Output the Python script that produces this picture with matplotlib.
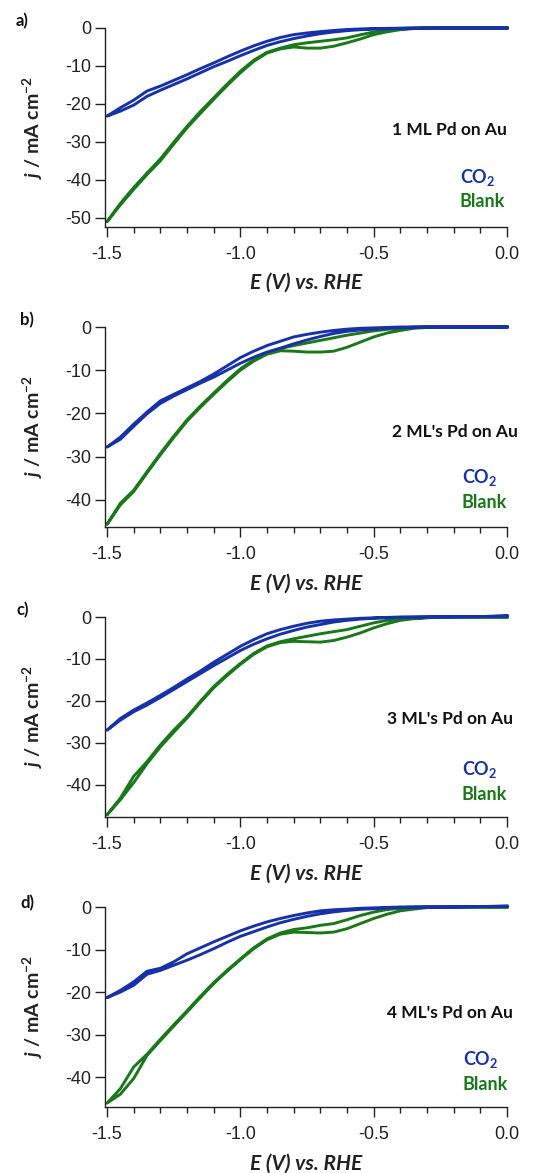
"""Linear sweep voltammograms of Pd monolayers on Au, CO2 vs blank electrolyte."""

import matplotlib

matplotlib.use("Agg")

import matplotlib.pyplot as plt
import numpy as np
from matplotlib.ticker import MultipleLocator, FormatStrFormatter

plt.rcParams["axes.unicode_minus"] = False
plt.rcParams["mathtext.fontset"] = "custom"
plt.rcParams["mathtext.rm"] = "Lato:bold"
plt.rcParams["mathtext.it"] = "Lato:bold:italic"
plt.rcParams["mathtext.bf"] = "Lato:bold"

BLUE = "#1732a8"
GREEN = "#1a781a"
LABEL_FONT = "Lato"
TICK_FONT = "Liberation Sans"

# potential grid (V vs RHE), shared by every branch
E_V = [0.0, -0.1, -0.2, -0.3, -0.35, -0.4, -0.45, -0.5, -0.55, -0.6, -0.65, -0.7,
       -0.75, -0.8, -0.85, -0.9, -0.95, -1.0, -1.05, -1.1, -1.15, -1.2, -1.25,
       -1.3, -1.35, -1.4, -1.45, -1.5]

panel_letters = ["a)", "b)", "c)", "d)"]
sample_names = ["1 ML Pd on Au", "2 ML's Pd on Au", "3 ML's Pd on Au", "4 ML's Pd on Au"]

# current density j (mA cm-2): cathodic and return sweeps
co2_fwd = [
    [0, 0, 0, 0, -0.05, -0.1, -0.2, -0.3, -0.45, -0.7, -1.05, -1.5, -2.1, -2.8, -3.6, -4.6,
     -5.9, -7.3, -8.8, -10.2, -11.8, -13.4, -14.9, -16.4, -18.0, -20.3, -21.9, -23.2],
    [0, 0, 0, 0, -0.05, -0.15, -0.3, -0.5, -0.7, -1.0, -1.5, -2.2, -3.0, -3.9, -4.9, -5.8,
     -7.0, -8.4, -10.0, -11.6, -13.0, -14.5, -16.0, -17.7, -20.1, -23.0, -26.0, -27.8],
    [0.25, 0.1, 0.05, 0, -0.05, -0.1, -0.2, -0.3, -0.5, -0.8, -1.2, -1.8, -2.4, -3.2, -4.1, -5.2,
     -6.5, -8.0, -9.8, -11.6, -13.5, -15.4, -17.3, -19.2, -21.0, -22.6, -24.6, -27.0],
    [0.2, 0.1, 0, 0, -0.05, -0.1, -0.25, -0.4, -0.55, -0.8, -1.15, -1.6, -2.2, -2.9, -3.7, -4.7,
     -5.8, -6.9, -8.3, -9.8, -11.2, -12.5, -13.7, -14.9, -15.8, -18.4, -20.0, -21.3],
]
co2_rev = [
    [0, 0, 0, 0, 0, -0.05, -0.1, -0.15, -0.25, -0.4, -0.65, -0.95, -1.3, -1.75, -2.5, -3.5,
     -4.7, -6.1, -7.6, -9.2, -10.7, -12.3, -13.8, -15.3, -16.6, -19.0, -21.0, -23.2],
    [0, 0, 0, 0, 0, 0, -0.1, -0.2, -0.3, -0.5, -0.8, -1.2, -1.7, -2.3, -3.3, -4.3,
     -5.6, -7.1, -9.0, -10.9, -12.6, -14.1, -15.6, -17.1, -19.7, -22.5, -25.5, -27.8],
    [0.25, 0.1, 0.05, 0, 0, 0, -0.1, -0.2, -0.3, -0.5, -0.7, -1.0, -1.5, -2.2, -3.0, -4.0,
     -5.4, -7.0, -8.9, -10.8, -12.9, -14.8, -16.8, -18.7, -20.5, -22.2, -24.2, -27.0],
    [0.2, 0.1, 0, 0, 0, 0, -0.1, -0.2, -0.3, -0.5, -0.65, -0.9, -1.4, -2.0, -2.7, -3.5,
     -4.5, -5.6, -6.9, -8.2, -9.6, -11.0, -12.9, -14.4, -15.1, -17.6, -19.6, -21.3],
]
blank_fwd = [
    [0, 0, 0, -0.05, -0.15, -0.45, -1.0, -1.75, -2.9, -3.9, -4.8, -5.3, -5.3, -5.0, -5.5, -6.6,
     -8.8, -11.8, -15.2, -18.8, -22.5, -26.3, -30.6, -35.0, -38.6, -42.5, -46.6, -51.0],
    [0, 0, 0, -0.1, -0.3, -0.8, -1.4, -2.3, -3.5, -4.7, -5.6, -5.8, -5.8, -5.6, -5.5, -6.3,
     -7.9, -10.0, -12.7, -15.6, -18.6, -21.8, -25.6, -29.6, -33.8, -38.1, -41.2, -45.7],
    [0, 0, 0, -0.16, -0.4, -0.8, -1.6, -2.6, -3.8, -4.8, -5.6, -6.0, -5.9, -5.8, -6.1, -7.1,
     -8.9, -11.3, -14.0, -16.9, -20.4, -24.1, -27.5, -31.0, -35.0, -39.5, -43.6, -47.2],
    [0, 0, 0, -0.15, -0.5, -0.9, -1.7, -2.7, -3.9, -5.1, -5.9, -6.1, -6.0, -5.9, -6.4, -7.7,
     -9.8, -12.4, -15.1, -18.0, -21.3, -24.7, -28.0, -31.4, -34.9, -40.3, -44.0, -46.1],
]
blank_rev = [
    [0, 0, 0, 0, -0.1, -0.25, -0.6, -1.05, -1.8, -2.6, -3.1, -3.5, -3.9, -4.4, -5.3, -6.4,
     -8.5, -11.4, -14.8, -18.4, -22.0, -25.9, -30.1, -34.5, -38.2, -42.0, -46.2, -51.0],
    [0, 0, 0, 0, -0.1, -0.3, -0.55, -0.9, -1.4, -1.9, -2.5, -3.1, -3.7, -4.3, -5.0, -6.0,
     -7.6, -9.7, -12.4, -15.3, -18.3, -21.5, -25.3, -29.3, -33.5, -37.8, -40.8, -45.7],
    [0, 0, 0, -0.16, -0.3, -0.5, -0.8, -1.4, -2.2, -3.0, -3.5, -4.0, -4.6, -5.2, -5.9, -6.9,
     -8.7, -11.1, -13.7, -16.6, -20.1, -23.8, -27.0, -30.5, -34.5, -38.0, -43.2, -47.2],
    [0, 0, 0, 0, -0.1, -0.3, -0.6, -1.2, -2.0, -3.0, -3.9, -4.3, -4.9, -5.3, -6.1, -7.5,
     -9.6, -12.2, -14.9, -17.8, -21.0, -24.4, -27.7, -31.1, -34.6, -37.6, -42.7, -46.1],
]

y_bottoms = [-52.4, -46.3, -47.7, -47.0]
y_tick_sets = [[0, -10, -20, -30, -40, -50], [0, -10, -20, -30, -40],
               [0, -10, -20, -30, -40], [0, -10, -20, -30, -40]]

W, H = 543, 1173
axes_tops_px = [28, 327, 617, 907]
axes_heights_px = [199, 200, 200, 200]
letter_pos_px = [(22, 21), (27, 320), (23, 610), (27, 903)]
name_pos = [(1.0, 0.487), (1.027, 0.475), (1.015, 0.49), (1.015, 0.47)]
legend_pos = [(0.883, 0.251, 0.126), (0.888, 0.245, 0.12),
              (0.888, 0.24, 0.11), (0.890, 0.24, 0.11)]


def loop(fwd, rev):
    e = np.asarray(E_V)
    return (np.concatenate([e, e[::-1]]),
            np.concatenate([np.asarray(fwd), np.asarray(rev)[::-1]]))


fig = plt.figure(figsize=(W / 100, H / 100), dpi=100)

for i in range(4):
    top = axes_tops_px[i]
    h = axes_heights_px[i]
    ax = fig.add_axes([105 / W, 1 - (top + h) / H, 402 / W, h / H])

    ex, jy = loop(blank_fwd[i], blank_rev[i])
    ax.plot(ex, jy, color=GREEN, lw=2.1, clip_on=False, solid_joinstyle="round")
    ex, jy = loop(co2_fwd[i], co2_rev[i])
    ax.plot(ex, jy, color=BLUE, lw=2.1, clip_on=False, solid_joinstyle="round")

    ax.set_xlim(-1.5075, 0.0)
    ax.set_ylim(y_bottoms[i], 0.0)
    ax.set_yticks(y_tick_sets[i])
    ax.xaxis.set_major_locator(MultipleLocator(0.5))
    ax.xaxis.set_minor_locator(MultipleLocator(0.1))
    ax.xaxis.set_major_formatter(FormatStrFormatter("%.1f"))

    for side in ("top", "right"):
        ax.spines[side].set_visible(False)
    for side in ("left", "bottom"):
        ax.spines[side].set_linewidth(1.0)
        ax.spines[side].set_color("#222222")

    ax.tick_params(axis="y", which="major", direction="out", length=7, width=1,
                   color="#222222", pad=3)
    ax.tick_params(axis="x", which="major", direction="out", length=7, width=1,
                   color="#222222", pad=7)
    ax.tick_params(axis="x", which="minor", direction="out", length=4.3, width=1,
                   color="#222222")
    for lab in ax.get_xticklabels() + ax.get_yticklabels():
        lab.set_fontfamily(TICK_FONT)
        lab.set_fontsize(13)
        lab.set_color("#222222")

    ax.text(0.5, -(283 - 227) / 199, "E (V) vs. RHE", transform=ax.transAxes,
            ha="center", va="center", fontsize=15, fontweight="bold",
            fontstyle="italic", family=LABEL_FONT, color="#222222")
    ax.text(-0.179, 0.5, r"$\mathit{j}$ / mA cm$^{-2}$", transform=ax.transAxes,
            ha="center", va="center", rotation=90, fontsize=14, fontweight="bold",
            family=LABEL_FONT, color="#222222")

    nx, ny = name_pos[i]
    ax.text(nx, ny, sample_names[i], transform=ax.transAxes, ha="right", va="center",
            fontsize=12.5, fontweight="bold", family=LABEL_FONT, color="#111111")
    lx, cy, by = legend_pos[i]
    ax.text(lx, cy, r"CO$_2$", transform=ax.transAxes, ha="left", va="center",
            fontsize=13, fontweight="bold", family=LABEL_FONT, color=BLUE)
    ax.text(lx, by, "Blank", transform=ax.transAxes, ha="left", va="center",
            fontsize=13, fontweight="bold", family=LABEL_FONT, color=GREEN)

    px, py = letter_pos_px[i]
    fig.text(px / W, 1 - py / H, panel_letters[i], ha="center", va="center",
             fontsize=12, fontweight="bold", family=LABEL_FONT, color="#111111")

fig.savefig("out.png", dpi=100)
plt.close(fig)
